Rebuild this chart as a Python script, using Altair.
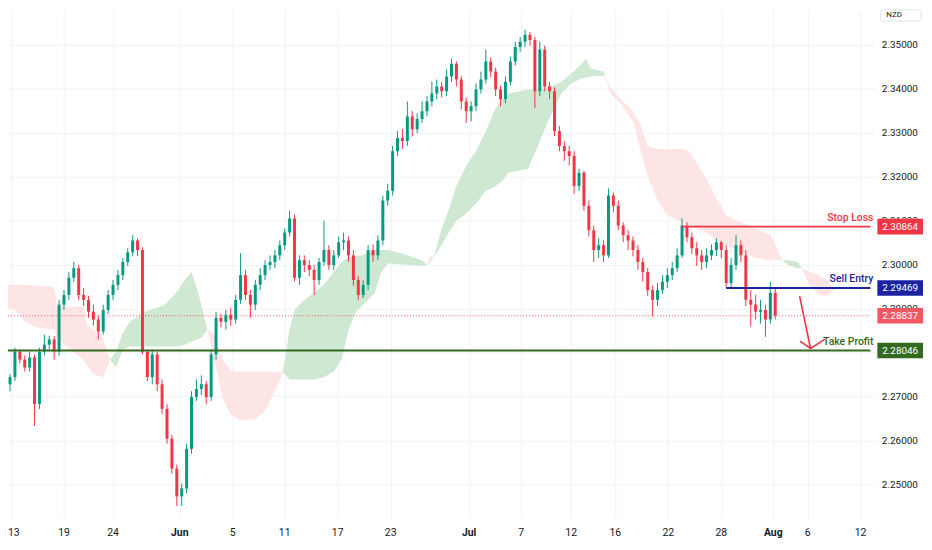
import altair as alt
import pandas as pd

# ---------------- candles (one bar every step, open = previous close) ----------------
first_open = 2.2757
closes = [2.2728, 2.2744, 2.2802, 2.2784, 2.2766, 2.2789, 2.2683, 2.2802, 2.2818, 2.2830,
          2.2802, 2.2909, 2.2931, 2.2970, 2.2992, 2.2931, 2.2920, 2.2893, 2.2875, 2.2848,
          2.2897, 2.2931, 2.2954, 2.2976, 2.3006, 2.3028, 2.3055, 2.3033, 2.2802, 2.2744,
          2.2796, 2.2728, 2.2672, 2.2604, 2.2536, 2.2473, 2.2491, 2.2581, 2.2699, 2.2717,
          2.2728, 2.2699, 2.2796, 2.2879, 2.2870, 2.2886, 2.2875, 2.2920, 2.2976, 2.2931,
          2.2909, 2.2954, 2.2976, 2.2999, 2.3006, 2.3021, 2.3044, 2.3073, 2.3105, 2.2970,
          2.3010, 2.2999, 2.2988, 2.2965, 2.3006, 2.3033, 2.2999, 2.3021, 2.3051, 2.3055,
          2.3021, 2.2965, 2.2931, 2.2954, 2.3033, 2.3021, 2.3055, 2.3146, 2.3168, 2.3258,
          2.3288, 2.3281, 2.3337, 2.3308, 2.3331, 2.3349, 2.3371, 2.3389, 2.3405, 2.3394,
          2.3428, 2.3457, 2.3421, 2.3371, 2.3349, 2.3360, 2.3398, 2.3421, 2.3462, 2.3439,
          2.3398, 2.3376, 2.3416, 2.3462, 2.3495, 2.3507, 2.3523, 2.3511, 2.3394, 2.3489,
          2.3405, 2.3394, 2.3304, 2.3270, 2.3258, 2.3247, 2.3179, 2.3209, 2.3134, 2.3078,
          2.3033, 2.3044, 2.3021, 2.3157, 2.3134, 2.3089, 2.3067, 2.3055, 2.3033, 2.3006,
          2.2983, 2.2942, 2.2920, 2.2942, 2.2961, 2.2976, 2.2992, 2.3021, 2.3089, 2.3062,
          2.3037, 2.3021, 2.3006, 2.3021, 2.3033, 2.3051, 2.3033, 2.2958, 2.2999, 2.3044,
          2.3021, 2.2920, 2.2909, 2.2893, 2.2897, 2.2875, 2.2936, 2.2884]
highs = [2.2766, 2.2751, 2.2811, 2.2807, 2.2793, 2.2802, 2.2796, 2.2811, 2.2841, 2.2838,
         2.2838, 2.2920, 2.2942, 2.2983, 2.3006, 2.2999, 2.2947, 2.2929, 2.2909, 2.2884,
         2.2909, 2.2942, 2.2965, 2.2988, 2.3015, 2.3037, 2.3067, 2.3060, 2.3040, 2.2807,
         2.2807, 2.2802, 2.2739, 2.2683, 2.2613, 2.2545, 2.2502, 2.2593, 2.2712, 2.2739,
         2.2748, 2.2735, 2.2807, 2.2893, 2.2888, 2.2897, 2.2902, 2.2931, 2.3026, 2.2988,
         2.2942, 2.2965, 2.2992, 2.3010, 2.3021, 2.3033, 2.3055, 2.3082, 2.3123, 2.3114,
         2.3021, 2.3021, 2.3010, 2.2999, 2.3015, 2.3100, 2.3044, 2.3033, 2.3064, 2.3073,
         2.3064, 2.3033, 2.2974, 2.2965, 2.3044, 2.3046, 2.3067, 2.3157, 2.3184, 2.3270,
         2.3304, 2.3308, 2.3371, 2.3349, 2.3344, 2.3371, 2.3383, 2.3416, 2.3421, 2.3416,
         2.3444, 2.3468, 2.3462, 2.3428, 2.3380, 2.3371, 2.3412, 2.3439, 2.3489, 2.3471,
         2.3448, 2.3407, 2.3428, 2.3473, 2.3507, 2.3518, 2.3534, 2.3529, 2.3518, 2.3507,
         2.3498, 2.3416, 2.3403, 2.3315, 2.3281, 2.3270, 2.3258, 2.3218, 2.3213, 2.3146,
         2.3089, 2.3060, 2.3055, 2.3173, 2.3164, 2.3146, 2.3096, 2.3078, 2.3064, 2.3044,
         2.3015, 2.2992, 2.2952, 2.2958, 2.2976, 2.2992, 2.3006, 2.3037, 2.3105, 2.3096,
         2.3073, 2.3051, 2.3033, 2.3037, 2.3046, 2.3060, 2.3055, 2.3044, 2.3015, 2.3067,
         2.3055, 2.3033, 2.2942, 2.2931, 2.2920, 2.2909, 2.2961, 2.2947]
lows = [2.2717, 2.2712, 2.2735, 2.2775, 2.2757, 2.2757, 2.2633, 2.2672, 2.2793, 2.2807,
        2.2784, 2.2793, 2.2897, 2.2920, 2.2961, 2.2920, 2.2906, 2.2879, 2.2861, 2.2830,
        2.2841, 2.2888, 2.2920, 2.2942, 2.2965, 2.2997, 2.3019, 2.3019, 2.2796, 2.2735,
        2.2728, 2.2712, 2.2660, 2.2593, 2.2525, 2.2451, 2.2451, 2.2480, 2.2570, 2.2690,
        2.2703, 2.2683, 2.2690, 2.2784, 2.2857, 2.2852, 2.2861, 2.2866, 2.2911, 2.2920,
        2.2879, 2.2897, 2.2942, 2.2965, 2.2988, 2.2992, 2.3010, 2.3033, 2.3064, 2.2961,
        2.2954, 2.2983, 2.2974, 2.2931, 2.2954, 2.2997, 2.2988, 2.2988, 2.3015, 2.3033,
        2.3006, 2.2952, 2.2920, 2.2924, 2.2942, 2.3006, 2.3010, 2.3044, 2.3134, 2.3157,
        2.3247, 2.3263, 2.3270, 2.3292, 2.3299, 2.3322, 2.3337, 2.3360, 2.3376, 2.3380,
        2.3383, 2.3416, 2.3405, 2.3353, 2.3322, 2.3326, 2.3349, 2.3389, 2.3412, 2.3426,
        2.3383, 2.3360, 2.3367, 2.3407, 2.3453, 2.3484, 2.3495, 2.3498, 2.3356, 2.3383,
        2.3394, 2.3376, 2.3292, 2.3258, 2.3236, 2.3225, 2.3161, 2.3168, 2.3123, 2.3064,
        2.3006, 2.3015, 2.3006, 2.3015, 2.3119, 2.3078, 2.3051, 2.3033, 2.3019, 2.2988,
        2.2961, 2.2929, 2.2882, 2.2906, 2.2933, 2.2947, 2.2965, 2.2983, 2.3015, 2.3051,
        2.3024, 2.2997, 2.2988, 2.2992, 2.3010, 2.3019, 2.3015, 2.2947, 2.2949, 2.2988,
        2.3006, 2.2906, 2.2859, 2.2875, 2.2866, 2.2836, 2.2866, 2.2875]

# ---------------- Ichimoku cloud pieces (bar position, upper edge, lower edge) ----------------
red1_i = [0, 2, 4, 6.6, 10, 10.6, 16, 16.6, 18, 20, 21.4]
red1_hi = [2.2954, 2.2954, 2.2954, 2.2952, 2.2949, 2.2904, 2.2904, 2.2863, 2.2852, 2.2830, 2.2784]
red1_lo = [2.2902, 2.2897, 2.2870, 2.2857, 2.2852, 2.2830, 2.2784, 2.2773, 2.2751, 2.2744, 2.2784]

green1_i = [21.4, 22.6, 24, 25.4, 28.6, 32.6, 35, 36.6, 38, 39.2, 40, 41.2]
green1_hi = [2.2784, 2.2802, 2.2845, 2.2870, 2.2893, 2.2909, 2.2938, 2.2965, 2.2983, 2.2942, 2.2909, 2.2852]
green1_lo = [2.2784, 2.2766, 2.2807, 2.2814, 2.2814, 2.2814, 2.2814, 2.2818, 2.2825, 2.2830, 2.2834, 2.2852]

red2_i = [41.2, 42.6, 44.4, 46, 48, 51, 53, 55, 56.6]
red2_hi = [2.2852, 2.2841, 2.2784, 2.2757, 2.2757, 2.2757, 2.2757, 2.2757, 2.2755]
red2_lo = [2.2852, 2.2784, 2.2694, 2.2660, 2.2645, 2.2649, 2.2667, 2.2712, 2.2755]

green2_i = [56.6, 58, 59, 61, 63, 65, 67, 68.6, 70, 71.4, 72.6, 75.4, 76.6, 78, 80, 82.6, 85, 86]
green2_hi = [2.2755, 2.2852, 2.2897, 2.2920, 2.2936, 2.2954, 2.2983, 2.3006, 2.3017, 2.3019,
             2.3021, 2.3033, 2.3033, 2.3033, 2.3028, 2.3019, 2.3010, 2.2999]
green2_lo = [2.2755, 2.2739, 2.2739, 2.2739, 2.2739, 2.2744, 2.2757, 2.2784, 2.2852, 2.2891,
             2.2904, 2.2936, 2.2981, 2.3003, 2.3001, 2.2999, 2.2997, 2.2999]

red5_i = [86, 86.6, 87.4]
red5_hi = [2.2999, 2.3019, 2.3017]
red5_lo = [2.2999, 2.3003, 2.3017]

green3_i = [87.4, 89, 90.4, 92, 94, 96, 98, 100, 101.4, 102.6, 106.6, 108.6, 110, 111.4,
            113.4, 115.4, 117.4, 118.4, 119.4, 122, 122.4]
green3_hi = [2.3017, 2.3082, 2.3123, 2.3179, 2.3225, 2.3258, 2.3304, 2.3356, 2.3376, 2.3389,
             2.3398, 2.3398, 2.3401, 2.3405, 2.3416, 2.3434, 2.3455, 2.3468, 2.3446, 2.3439, 2.3428]
green3_lo = [2.3017, 2.3044, 2.3073, 2.3100, 2.3116, 2.3139, 2.3168, 2.3179, 2.3191, 2.3209,
             2.3218, 2.3270, 2.3308, 2.3344, 2.3389, 2.3412, 2.3423, 2.3425, 2.3428, 2.3430, 2.3428]

red3_i = [122.4, 123.4, 125.4, 128, 129.6, 131, 133, 135, 138, 139.4, 141, 143, 145, 147,
          150, 153, 156, 158, 158.4]
red3_hi = [2.3428, 2.3405, 2.3378, 2.3349, 2.3315, 2.3270, 2.3263, 2.3263, 2.3263, 2.3258,
           2.3231, 2.3195, 2.3150, 2.3112, 2.3096, 2.3082, 2.3067, 2.3021, 2.3010]
red3_lo = [2.3428, 2.3389, 2.3367, 2.3326, 2.3258, 2.3202, 2.3146, 2.3112, 2.3096, 2.3089,
           2.3082, 2.3073, 2.3055, 2.3044, 2.3028, 2.3015, 2.3010, 2.3010, 2.3010]

green4_i = [158.4, 160, 161.6, 162.4]
green4_hi = [2.3010, 2.3010, 2.3006, 2.2992]
green4_lo = [2.3010, 2.2997, 2.2992, 2.2992]

red4_i = [162.4, 164, 166, 167.6, 169]
red4_hi = [2.2992, 2.2983, 2.2976, 2.2965, 2.2942]
red4_lo = [2.2992, 2.2954, 2.2931, 2.2929, 2.2942]

# ---------------- axes ----------------
tick_pos = [1.2, 12, 22, 35.6, 46.4, 57, 67.8, 78.6, 94.6, 105.2, 115.4, 124.4, 135.2, 146,
            156.6, 163.6, 174.4]
tick_text = ["13", "19", "24", "Jun", "5", "11", "17", "23", "Jul", "7", "12", "16", "22",
             "28", "Aug", "6", "12"]
months = ["Jun", "Jul", "Aug"]
price_ticks = [2.25, 2.26, 2.27, 2.28, 2.29, 2.30, 2.31, 2.32, 2.33, 2.34, 2.35]

# ---------------- trade levels ----------------
level_names = ["Stop Loss", "Sell Entry", "Take Profit"]
level_prices = [2.30864, 2.29469, 2.28046]
level_start = [138, 147, 0]
level_colors = ["#f23645", "#1b239f", "#336a1f"]
last_price = 2.28837

# arrow (start bar, start price) -> tip
arrow_i1 = [162, 162.2, 167]
arrow_p1 = [2.29267, 2.28251, 2.28296]
arrow_i2 = [164.2, 164.2, 164.2]
arrow_p2 = [2.28093, 2.28093, 2.28093]

# ---------------- build ----------------
X_END = 176.4
W, H = 874, 512
FONT = "Roboto"
xs = alt.Scale(domain=[1.6, X_END], nice=False, zero=False)
ys = alt.Scale(domain=[2.24234, 2.35789], nice=False, zero=False)

x_axis = alt.Axis(values=tick_pos, grid=True, gridColor="#eff2f7", labels=False,
                  ticks=False, domain=False, title=None)
# the 2.28000 label sits fully under the take-profit tag in the original
y_axis = alt.Axis(orient="right", values=price_ticks, format=".5f", grid=True,
                  gridColor="#eff2f7", ticks=False, domain=False, labelPadding=6,
                  labelFontSize=10, labelColor="#131722", labelFont=FONT, title=None,
                  labelExpr="abs(datum.value - 2.28) < 0.000001 ? '' : datum.label")


def X(f):
    return alt.X(f, scale=xs, axis=x_axis)


def Y(f):
    return alt.Y(f, scale=ys, axis=y_axis)


n = len(closes)
opens = [first_open] + closes[:-1]
cdf = pd.DataFrame({"i": list(range(n)), "open": opens, "close": closes,
                    "high": highs, "low": lows})
cdf["up"] = cdf["close"] >= cdf["open"]

pieces = [("r1", "bear", red1_i, red1_hi, red1_lo),
          ("g1", "bull", green1_i, green1_hi, green1_lo),
          ("r2", "bear", red2_i, red2_hi, red2_lo),
          ("g2", "bull", green2_i, green2_hi, green2_lo),
          ("r5", "bear", red5_i, red5_hi, red5_lo),
          ("g3", "bull", green3_i, green3_hi, green3_lo),
          ("r3", "bear", red3_i, red3_hi, red3_lo),
          ("g4", "bull", green4_i, green4_hi, green4_lo),
          ("r4", "bear", red4_i, red4_hi, red4_lo)]
rows = []
for seg, kind, xi, hi, lo in pieces:
    for a, b, c in zip(xi, hi, lo):
        rows.append({"seg": seg, "kind": kind, "i": a, "hi": b, "lo": c})
cloud = pd.DataFrame(rows)

layers = []
cloud_colors = {"bull": "#cfe8d2", "bear": "#fde5e5"}
for kind in ["bear", "bull"]:
    layers.append(
        alt.Chart(cloud).transform_filter(alt.datum.kind == kind)
        .mark_area(clip=True, color=cloud_colors[kind], opacity=1)
        .encode(x=X("i:Q"), y=Y("hi:Q"), y2="lo:Q", detail="seg:N")
    )

for flag, col in [(True, "#089981"), (False, "#f23645")]:
    base = alt.Chart(cdf).transform_filter(alt.datum.up == flag)
    layers.append(base.mark_rule(clip=True, color=col, strokeWidth=1).encode(
        x=X("i:Q"), y=Y("low:Q"), y2="high:Q"))
    layers.append(base.mark_bar(clip=True, color=col, size=3).encode(
        x=X("i:Q"), y=Y("open:Q"), y2="close:Q"))

# current price dotted line
cur = pd.DataFrame({"price": [last_price], "start": [0], "end": [X_END]})
layers.append(alt.Chart(cur).mark_rule(clip=True, color="#f23645", strokeWidth=1,
                                       strokeDash=[1, 2], opacity=0.8).encode(
    x=X("start:Q"), x2="end:Q", y=Y("price:Q")))

TAG = "M-1,-0.34L1,-0.34L1,0.34L-1,0.34Z"
TAG_X = 899

for name, price, start, col in zip(level_names, level_prices, level_start, level_colors):
    d = pd.DataFrame({"name": [name], "price": [price], "start": [start], "end": [X_END]})
    layers.append(alt.Chart(d).mark_rule(clip=True, color=col, strokeWidth=2).encode(
        x=X("start:Q"), x2="end:Q", y=Y("price:Q")))
    layers.append(alt.Chart(d).mark_text(color=col, align="right", baseline="middle", dy=-9,
                                         fontSize=10.5, font=FONT, fontWeight=500).encode(
        x=alt.value(872), y=Y("price:Q"), text="name:N"))

tags = pd.DataFrame({"price": level_prices + [last_price],
                     "label": [f"{p:.5f}" for p in level_prices + [last_price]],
                     "col": level_colors + ["#f25864"]})
layers.append(alt.Chart(tags).mark_point(shape=TAG, size=46 * 46, filled=True, opacity=1,
                                         strokeWidth=0).encode(
    x=alt.value(TAG_X), y=Y("price:Q"), color=alt.Color("col:N", scale=None)))
layers.append(alt.Chart(tags).mark_text(color="white", fontSize=10, font=FONT,
                                        baseline="middle").encode(
    x=alt.value(TAG_X), y=Y("price:Q"), text="label:N"))

# arrow
arr = pd.DataFrame({"i1": arrow_i1, "p1": arrow_p1, "i2": arrow_i2, "p2": arrow_p2})
layers.append(alt.Chart(arr).mark_rule(color="#f23645", strokeWidth=1.6, strokeCap="round").encode(
    x=X("i1:Q"), y=Y("p1:Q"), x2="i2:Q", y2="p2:Q"))

# x-axis labels
xl = pd.DataFrame({"i": tick_pos, "t": tick_text})
xl["month"] = xl["t"].isin(months)
xl["first"] = [k == 0 for k in range(len(xl))]
layers.append(alt.Chart(xl).transform_filter("!datum.month && !datum.first").mark_text(
    fontSize=10.5, font=FONT, color="#131722", baseline="middle").encode(
    x=X("i:Q"), y=alt.value(H + 15), text="t:N"))
layers.append(alt.Chart(xl).transform_filter("datum.month").mark_text(
    fontSize=10.5, font=FONT, color="#131722", baseline="middle", fontWeight="bold").encode(
    x=X("i:Q"), y=alt.value(H + 15), text="t:N"))
layers.append(alt.Chart(xl).transform_filter("datum.first").mark_text(
    fontSize=10.5, font=FONT, color="#131722", baseline="middle", align="left").encode(
    x=alt.value(0), y=alt.value(H + 15), text="t:N"))

# currency box
box = pd.DataFrame({"t": ["NZD"]})
layers.append(alt.Chart(box).mark_rect(fill="white", stroke="#e0e3eb", strokeWidth=1,
                                       cornerRadius=2).encode(
    x=alt.value(879), x2=alt.value(920), y=alt.value(0), y2=alt.value(11)))
layers.append(alt.Chart(box).mark_text(fontSize=8, font=FONT, color="#131722",
                                       align="left", baseline="middle").encode(
    x=alt.value(885), y=alt.value(5), text="t:N"))

chart = alt.layer(*layers).properties(
    width=W, height=H,
    autosize=alt.AutoSizeParams(type="none"),
    padding={"left": 0, "top": 0, "right": 49, "bottom": 30},
    background="white",
).configure_view(strokeWidth=0)

chart.save("out.html", embed_options={"renderer": "svg", "actions": False})
